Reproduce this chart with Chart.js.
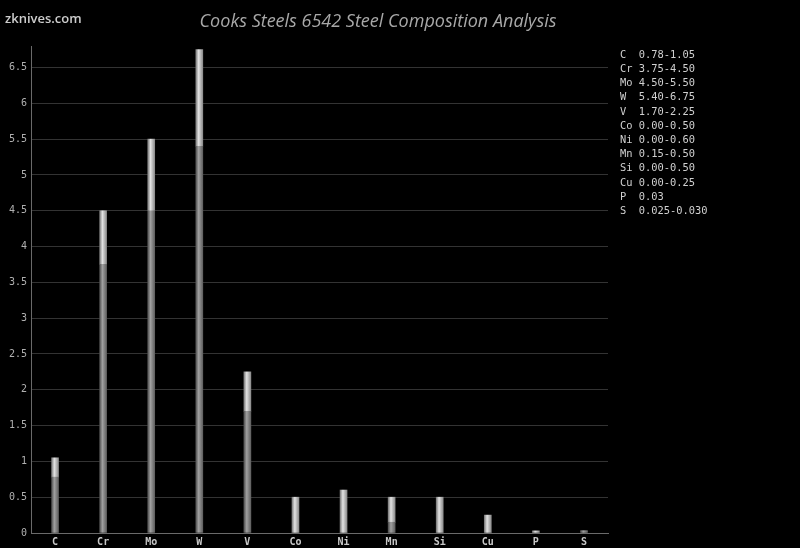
<!DOCTYPE html>
<html>
<head>
<meta charset="utf-8">
<script src="https://cdn.jsdelivr.net/npm/chart.js@4"></script>
<style>
  html, body { margin: 0; padding: 0; background: #000; }
  #wrap { width: 800px; height: 548px; }
</style>
</head>
<body>
<div id="wrap"><canvas id="steelChart" width="800" height="548"></canvas></div>
<script>
// composition data, percent by weight
const elements = ["C", "Cr", "Mo", "W", "V", "Co", "Ni", "Mn", "Si", "Cu", "P", "S"];
const minVals = [0.78, 3.75, 4.50, 5.40, 1.70, 0.00, 0.00, 0.15, 0.00, 0.00, 0.00, 0.025];
const maxVals = [1.05, 4.50, 5.50, 6.75, 2.25, 0.50, 0.60, 0.50, 0.50, 0.25, 0.03, 0.030];
const rangeText = ["0.78-1.05", "3.75-4.50", "4.50-5.50", "5.40-6.75", "1.70-2.25", "0.00-0.50",
  "0.00-0.60", "0.15-0.50", "0.00-0.50", "0.00-0.25", "0.03", "0.025-0.030"];
const yMax = 6.8;
const yStep = 0.5;

const BAR_W = 7;

// cylinder-ish shading across each bar
function barShade(stops) {
  return function (ctx) {
    const chart = ctx.chart;
    if (!chart.chartArea || !chart.scales.x) return stops[1];
    const x = chart.scales.x.getPixelForValue(ctx.dataIndex);
    const g = chart.ctx.createLinearGradient(x - BAR_W / 2, 0, x + BAR_W / 2, 0);
    g.addColorStop(0, stops[0]);
    g.addColorStop(0.4, stops[1]);
    g.addColorStop(1, stops[2]);
    return g;
  };
}

// title, site name and the range list on the right
const decorPlugin = {
  id: "decor",
  beforeDraw(chart) {
    const c = chart.ctx;
    c.save();
    c.fillStyle = "#000";
    c.fillRect(0, 0, chart.width, chart.height);
    c.restore();
  },
  afterDraw(chart) {
    const c = chart.ctx;
    c.save();
    c.textBaseline = "middle";

    c.fillStyle = "#cccccc";
    c.font = "600 13px 'Open Sans', sans-serif";
    c.textAlign = "left";
    c.fillText("zknives.com", 5, 19);

    c.fillStyle = "#a8a8a8";
    c.font = "italic 18px 'Open Sans', sans-serif";
    c.textAlign = "center";
    c.fillText("Cooks Steels 6542 Steel Composition Analysis", 378, 22);

    c.fillStyle = "#d0d0d0";
    c.font = "10.4px 'DejaVu Sans Mono', monospace";
    c.textAlign = "left";
    elements.forEach((el, i) => {
      c.fillText(el.padEnd(2, " ") + " " + rangeText[i], 620, 55 + i * 14.2);
    });
    c.restore();
  }
};

document.addEventListener("DOMContentLoaded", () => {
  const ctx = document.getElementById("steelChart").getContext("2d");

  window.steelChart = new Chart(ctx, {
    type: "bar",
    data: {
      labels: elements,
      datasets: [
        {
          label: "min",
          data: minVals,
          backgroundColor: barShade(["#505050", "#a0a0a0", "#606060"]),
          borderWidth: 0,
          barThickness: BAR_W,
        },
        {
          label: "range",
          data: maxVals.map((v, i) => v - minVals[i]),
          backgroundColor: barShade(["#7a7a7a", "#e2e2e2", "#8c8c8c"]),
          borderWidth: 0,
          barThickness: BAR_W,
        },
      ],
    },
    options: {
      responsive: false,
      animation: false,
      layout: {
        padding: { top: 46, right: 192, left: 0, bottom: 0 },
      },
      plugins: {
        legend: { display: false },
        title: { display: false },
        tooltip: { enabled: false },
      },
      scales: {
        x: {
          stacked: true,
          grid: { display: false, drawTicks: false },
          border: { display: true, color: "#6a6a6a", width: 1 },
          ticks: {
            color: "#c8c8c8",
            font: { family: "'DejaVu Sans Mono', monospace", size: 10, weight: "bold" },
            padding: 3,
            maxRotation: 0,
          },
          afterFit(scale) {
            scale.height = 15;
          },
        },
        y: {
          stacked: true,
          min: 0,
          max: yMax,
          ticks: {
            stepSize: yStep,
            color: "#b0b0b0",
            font: { family: "'DejaVu Sans Mono', monospace", size: 10 },
            padding: 4,
            callback: (v) => String(Number(v.toFixed(2))),
          },
          afterBuildTicks(scale) {
            scale.ticks = scale.ticks.filter(
              (t) => Math.abs(t.value / yStep - Math.round(t.value / yStep)) < 1e-6
            );
          },
          grid: { color: "#333333", lineWidth: 1, drawTicks: false },
          border: { display: true, color: "#6a6a6a", width: 1 },
          afterFit(scale) {
            scale.width = 31;
          },
        },
      },
    },
    plugins: [decorPlugin],
  });
});
</script>
</body>
</html>
